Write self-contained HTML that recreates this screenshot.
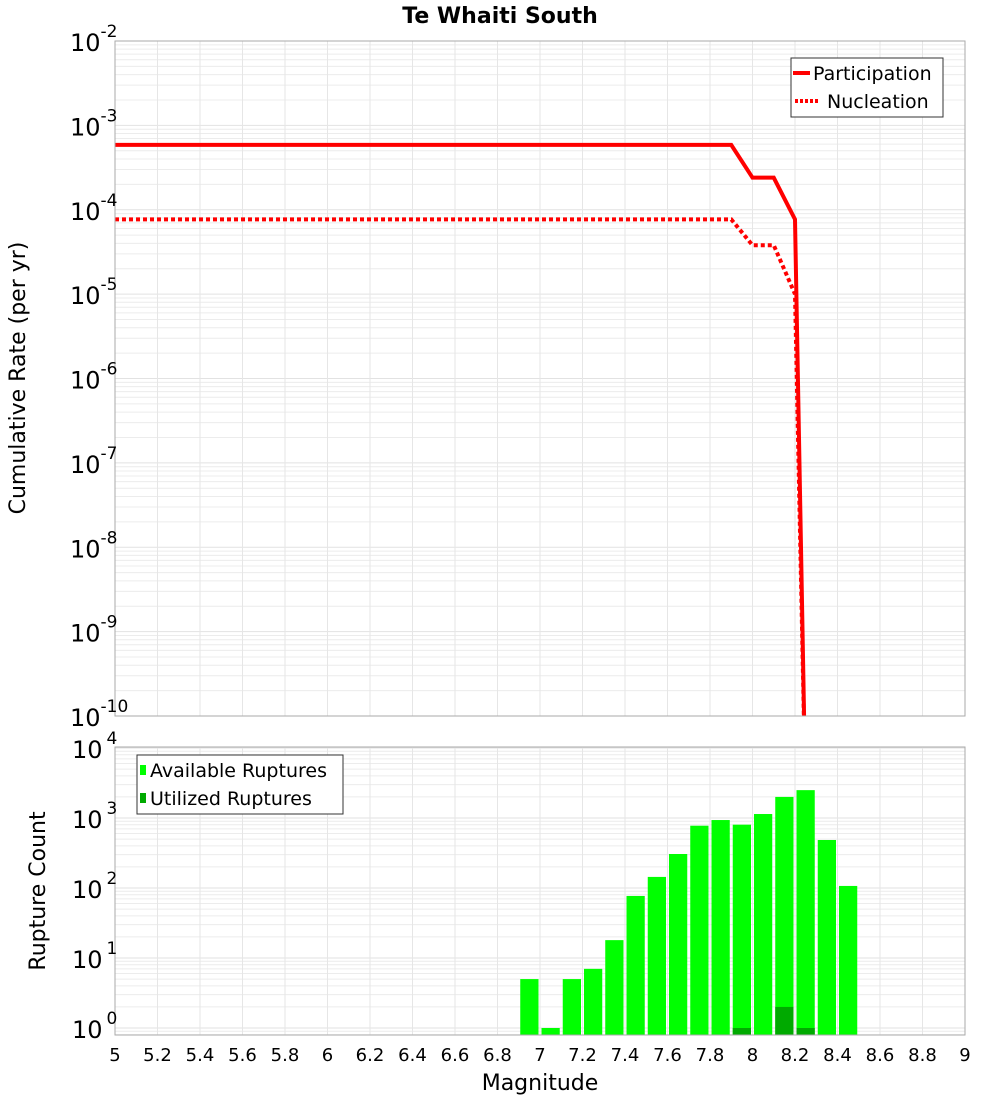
<!DOCTYPE html>
<html><head><meta charset="utf-8"><style>
body{margin:0;background:#fff;}
svg text{font-family:"DejaVu Sans","Liberation Sans",sans-serif;}
</style></head><body>
<svg id="chart" width="1000" height="1100" xmlns="http://www.w3.org/2000/svg">
<text x="500" y="23" text-anchor="middle" font-size="22" font-weight="bold">Te Whaiti South</text>
<g id="topplot"></g>
<g id="botplot"></g>
<text transform="translate(25,378) rotate(-90)" text-anchor="middle" font-size="22">Cumulative Rate (per yr)</text>
<text transform="translate(45,891) rotate(-90)" text-anchor="middle" font-size="22">Rupture Count</text>
<text x="540" y="1090" text-anchor="middle" font-size="22">Magnitude</text>
</svg>
<script>
const partMags=[5,7.9,8.0,8.1,8.2,8.25];
const partRates=[5.87e-4,5.87e-4,2.4e-4,2.4e-4,7.7e-5,1e-11];
const nuclMags=[5,7.9,8.0,8.1,8.2,8.25];
const nuclRates=[7.7e-5,7.7e-5,3.8e-5,3.8e-5,1e-5,1e-11];
const binStarts=[6.9,7.0,7.1,7.2,7.3,7.4,7.5,7.6,7.7,7.8,7.9,8.0,8.1,8.2,8.3,8.4];
const availCounts=[5,1,5,7,18,77,144,306,776,935,803,1140,2000,2500,485,107];
const utilBins=[7.9,8.1,8.2];
const utilCounts=[1,2,1];
const xTicks=[5,5.2,5.4,5.6,5.8,6,6.2,6.4,6.6,6.8,7,7.2,7.4,7.6,7.8,8,8.2,8.4,8.6,8.8,9];
const topExps=[-2,-3,-4,-5,-6,-7,-8,-9,-10];
const botExps=[4,3,2,1,0];

const NS="http://www.w3.org/2000/svg";
const X0=115,X1=965;
const xs=m=>X0+(m-5)/4*(X1-X0);
const yTop=v=>41+(-2-Math.log10(v))*84.375;
const yBot=v=>1028-Math.log10(v)*70;
function mk(p,tag,attrs){const e=document.createElementNS(NS,tag);for(const k in attrs)e.setAttribute(k,attrs[k]);p.appendChild(e);return e;}
const gTop=document.getElementById('topplot'),gBot=document.getElementById('botplot');

function grid(g,y0,y1,yf,emin,emax){
  for(let e=emin;e<emax;e++)for(let k=1;k<10;k++){const y=yf(k*Math.pow(10,e));if(y<y0-0.5||y>y1+0.5)continue;
    const l=mk(g,'line',{x1:X0,x2:X1,y1:y,y2:y,stroke:k==1?'#e2e2e2':'#ececec','stroke-width':1});
    
    }
  xTicks.forEach(t=>{const l=mk(g,'line',{x1:xs(t),x2:xs(t),y1:y0,y2:y1,stroke:'#e6e6e6','stroke-width':1});
    
    });
}
grid(gTop,41,716,yTop,-11,-1);
grid(gBot,747,1035,yBot,-1,5);

const clipT=mk(gTop,'clipPath',{id:'ct'});mk(clipT,'rect',{x:X0,y:41,width:X1-X0,height:675});
function line(mags,rates,dash,name){const pts=mags.map((m,i)=>xs(m)+','+yTop(rates[i])).join(' ');
  const p=mk(gTop,'polyline',{points:pts,fill:'none',stroke:'#ff0000','stroke-width':4,'clip-path':'url(#ct)'});
  if(dash)p.setAttribute('stroke-dasharray',dash);
  
  }
line(partMags,partRates,null,'participation-line');
line(nuclMags,nuclRates,'4,3','nucleation-line');

const bw=(X1-X0)/40;
binStarts.forEach((m,i)=>{const y=yBot(availCounts[i]);
  const r=mk(gBot,'rect',{x:xs(m)+1.5,y:y,width:bw-3,height:1035-y,fill:'#00ff00'});
  
  });
utilBins.forEach((m,i)=>{const y=yBot(utilCounts[i]);
  const r=mk(gBot,'rect',{x:xs(m)+1.5,y:y,width:bw-3,height:1035-y,fill:'#00aa00'});
  
  });

[[gTop,41,716],[gBot,747,1035]].forEach(([g,a,b])=>{const r=mk(g,'rect',{x:X0,y:a,width:X1-X0,height:b-a,fill:'none',stroke:'#aaaaaa','stroke-width':1});
  
  });

topExps.forEach(e=>{const t=mk(gTop,'text',{x:70,y:yTop(Math.pow(10,e))+10,'font-size':24});
  t.textContent='10';const s=mk(t,'tspan',{dy:-14,'font-size':17});s.textContent=String(e);
  
  });
botExps.forEach(e=>{const t=mk(gBot,'text',{x:72,y:yBot(Math.pow(10,e))+10,'font-size':24});
  t.textContent='10';const s=mk(t,'tspan',{dy:-14,dx:4,'font-size':17});s.textContent=String(e);
  
  });
xTicks.forEach(m=>{const t=mk(gBot,'text',{x:xs(m),y:1061,'text-anchor':'middle','font-size':18});t.textContent=String(m);
  
  });

let lg=mk(gTop,'g',{});


mk(lg,'rect',{x:791,y:58,width:152,height:59,fill:'#fff',stroke:'#333','stroke-width':1});
mk(lg,'line',{x1:793,x2:810,y1:73,y2:73,stroke:'#f00','stroke-width':4});
mk(lg,'line',{x1:795,x2:820,y1:101,y2:101,stroke:'#f00','stroke-width':4,'stroke-dasharray':'3,2'});
let t=mk(lg,'text',{x:813,y:80,'font-size':19});t.textContent='Participation';
t=mk(lg,'text',{x:827,y:108,'font-size':19});t.textContent='Nucleation';
lg=mk(gBot,'g',{});


mk(lg,'rect',{x:137,y:755,width:206,height:59,fill:'#fff',stroke:'#333','stroke-width':1});
mk(lg,'rect',{x:140,y:765,width:6,height:10,fill:'#00ff00'});
mk(lg,'rect',{x:140,y:793,width:6,height:10,fill:'#00aa00'});
t=mk(lg,'text',{x:150,y:777,'font-size':19});t.textContent='Available Ruptures';
t=mk(lg,'text',{x:150,y:805,'font-size':19});t.textContent='Utilized Ruptures';
</script>
</body></html>
